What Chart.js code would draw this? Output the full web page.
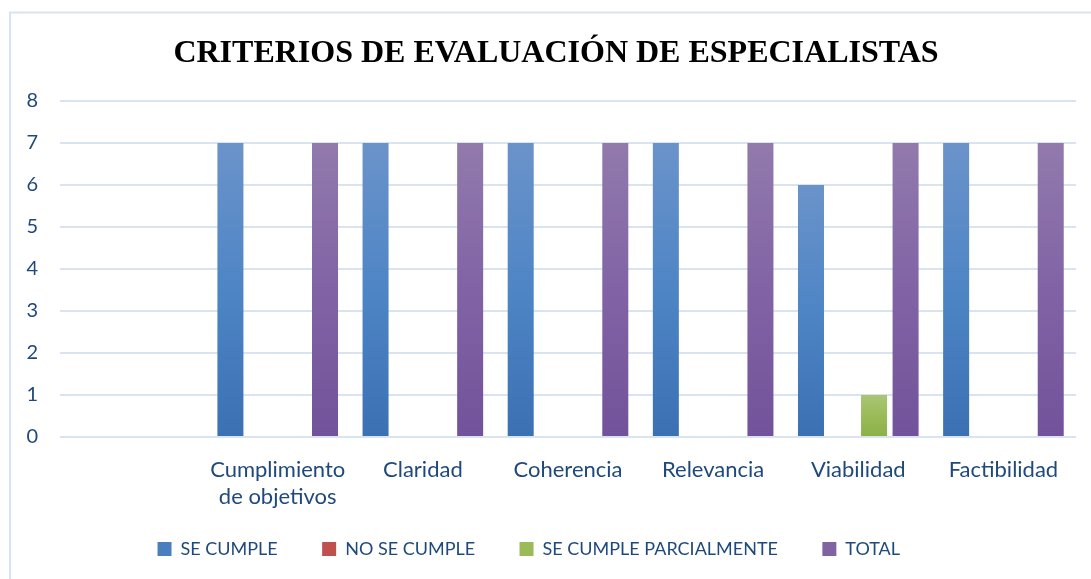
<!DOCTYPE html>
<html>
<head>
<meta charset="utf-8">
<script src="https://cdn.jsdelivr.net/npm/chart.js@4.4.1/dist/chart.umd.min.js"></script>
<style>
  html, body { margin: 0; padding: 0; background: #ffffff; }
  #wrap { position: relative; width: 1091px; height: 579px; }
</style>
</head>
<body>
<div id="wrap"><canvas id="criteriosChart"></canvas></div>
<script>
const categories = ['', ['Cumplimiento', 'de objetivos'], 'Claridad', 'Coherencia', 'Relevancia', 'Viabilidad', 'Factibilidad'];
const seCumple = [null, 7, 7, 7, 7, 6, 7];
const noSeCumple = [null, 0, 0, 0, 0, 0, 0];
const seCumpleParcial = [null, 0, 0, 0, 0, 1, 0];
const total = [null, 7, 7, 7, 7, 7, 7];
const yTicks = [0, 1, 2, 3, 4, 5, 6, 7, 8];

const textColor = '#1f497d';
const gridColor = '#dae4f1';

// vertical gradient inside each bar, light on top
function barFill(stops, flat) {
  return function (ctx) {
    const chart = ctx.chart;
    if (ctx.type !== 'data' || !chart.chartArea || ctx.raw == null) return flat;
    const y = chart.scales.y;
    const top = y.getPixelForValue(ctx.raw);
    const bottom = y.getPixelForValue(0);
    if (bottom - top < 1) return flat;
    const g = chart.ctx.createLinearGradient(0, top, 0, bottom);
    stops.forEach((c, i) => g.addColorStop(i / (stops.length - 1), c));
    return g;
  };
}

const framePlugin = {
  id: 'frame',
  beforeDraw(chart) {
    const c = chart.ctx;
    c.save();
    c.fillStyle = '#ffffff';
    c.fillRect(0, 0, chart.width, chart.height);
    c.strokeStyle = '#d9e3f1';
    c.lineWidth = 2;
    c.beginPath();
    c.moveTo(10, chart.height);
    c.lineTo(10, 12.5);
    c.lineTo(chart.width, 12.5);
    c.stroke();
    c.restore();
  }
};

new Chart(document.getElementById('criteriosChart'), {
  type: 'bar',
  data: {
    labels: categories,
    datasets: [
      {
        label: 'SE CUMPLE',
        data: seCumple,
        backgroundColor: barFill(['#6b93ca', '#4e85c5', '#3b71b3'], '#4a7ebf')
      },
      {
        label: 'NO SE CUMPLE',
        data: noSeCumple,
        backgroundColor: barFill(['#d4625e', '#c0504d', '#b23d3a'], '#c0504d')
      },
      {
        label: 'SE CUMPLE PARCIALMENTE',
        data: seCumpleParcial,
        backgroundColor: barFill(['#a9c573', '#9bbb59', '#8cb048'], '#9bbb59')
      },
      {
        label: 'TOTAL',
        data: total,
        backgroundColor: barFill(['#917aac', '#8163a5', '#72529a'], '#8064a2')
      }
    ]
  },
  options: {
    responsive: true,
    maintainAspectRatio: false,
    animation: false,
    categoryPercentage: 0.869,
    barPercentage: 0.825,
    layout: { padding: { top: 0, left: 0, right: 15, bottom: 11 } },
    plugins: {
      title: {
        display: true,
        text: 'CRITERIOS DE EVALUACIÓN DE ESPECIALISTAS   ',
        color: '#000000',
        fullSize: false,
        font: { family: 'Liberation Serif', size: 32, weight: 'bold', lineHeight: 1.2 },
        padding: { top: 35, bottom: 27.6 }
      },
      legend: {
        position: 'bottom',
        labels: {
          color: textColor,
          boxWidth: 14,
          boxHeight: 14,
          padding: 26,
          font: { family: 'Lato', size: 18 },
          generateLabels(chart) {
            const items = Chart.defaults.plugins.legend.labels.generateLabels(chart);
            items.forEach(it => { it.text = it.text + '    '; });
            return items;
          }
        }
      },
      tooltip: { enabled: false }
    },
    scales: {
      x: {
        grid: { display: false },
        border: { display: false },
        ticks: {
          color: textColor,
          padding: 11,
          maxRotation: 0,
          autoSkip: false,
          font: { family: 'Lato', size: 22, lineHeight: 1.23 }
        },
        afterFit(scale) { scale.height = 77; }
      },
      y: {
        min: 0,
        max: 8,
        border: { display: false },
        grid: { color: gridColor, lineWidth: 2, drawTicks: false },
        afterBuildTicks(scale) { scale.ticks = yTicks.map(v => ({ value: v })); },
        ticks: {
          color: textColor,
          padding: 22,
          font: { family: 'Lato', size: 20 }
        },
        afterFit(scale) { scale.width = 60; }
      }
    }
  },
  plugins: [framePlugin]
});
</script>
</body>
</html>
